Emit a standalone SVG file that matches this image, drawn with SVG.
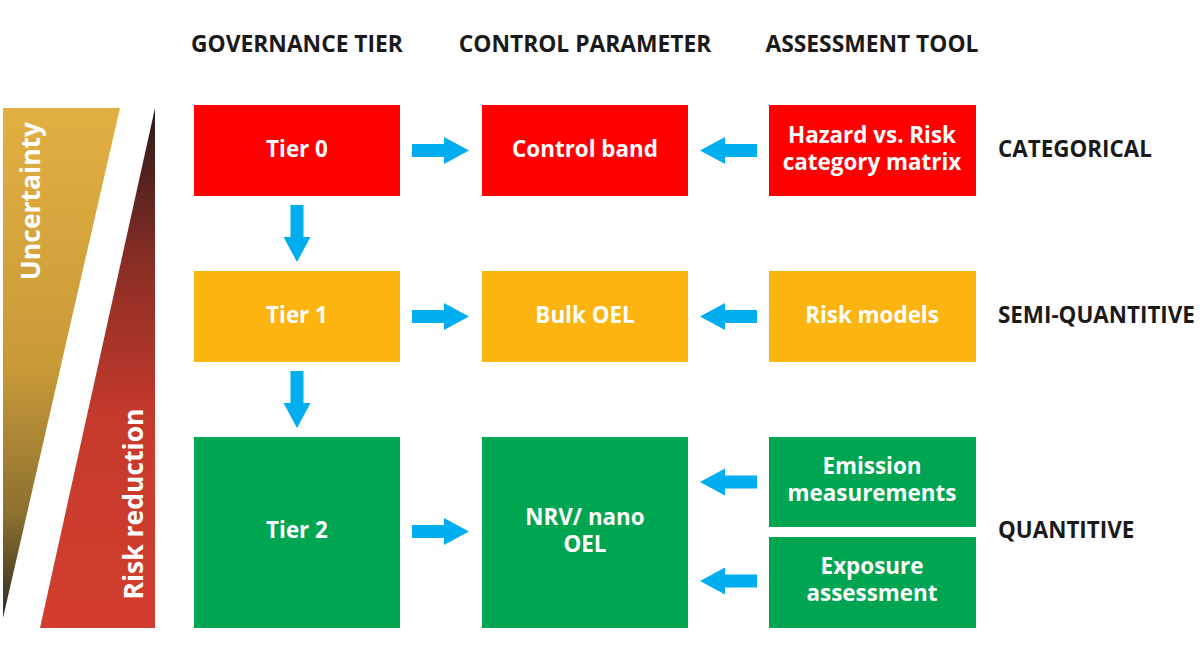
<svg xmlns="http://www.w3.org/2000/svg" width="1200" height="660" viewBox="0 0 1200 660">
<defs>
<linearGradient id="gU" x1="0" y1="0" x2="0" y2="1">
<stop offset="0" stop-color="#E2AF42"/>
<stop offset="0.5" stop-color="#C99A38"/>
<stop offset="0.8" stop-color="#8C7030"/>
<stop offset="1" stop-color="#2E2A22"/>
</linearGradient>
<linearGradient id="gR" x1="0" y1="0" x2="0" y2="1">
<stop offset="0" stop-color="#2B1A1A"/>
<stop offset="0.3" stop-color="#8A2E25"/>
<stop offset="0.6" stop-color="#C63A2C"/>
<stop offset="1" stop-color="#D23E2E"/>
</linearGradient>
<path id="arR" d="M0,-6.5 H32 V-13.5 L57,0 L32,13.5 V6.5 H0 Z"/>
</defs>
<style>
text{font-family:"Open Sans","Liberation Sans",sans-serif;font-weight:bold}
.h{font-size:22.8px;fill:#1a1a1a;text-anchor:middle}
.s{font-size:22.4px;fill:#1a1a1a}
.b{font-size:22.4px;fill:#fff;text-anchor:middle}
.red{fill:#FF0000}.org{fill:#FBB410}.grn{fill:#00A551}
.ar{fill:#00AEEF}
.side{font-size:26.5px;fill:#fff;text-anchor:middle}
</style>
<rect width="1200" height="660" fill="#fff"/>
<g id="uncertainty">
<polygon points="3,108 120,108 3,618" fill="url(#gU)"/>
<text class="side" transform="translate(40,201) rotate(-90)">Uncertainty</text>
</g>
<g id="risk-reduction">
<polygon points="155,108 155,628 40,628" fill="url(#gR)"/>
<text class="side" transform="translate(143,504) rotate(-90)">Risk reduction</text>
</g>
<g id="headers">
<text class="h" x="297" y="52">GOVERNANCE TIER</text>
<text class="h" x="585" y="52">CONTROL PARAMETER</text>
<text class="h" x="872" y="52">ASSESSMENT TOOL</text>
</g>
<g id="labels">
<text class="s" x="998" y="157">CATEGORICAL</text>
<text class="s" x="998" y="323">SEMI-QUANTITIVE</text>
<text class="s" x="998" y="538">QUANTITIVE</text>
</g>
<g id="tier0"><rect class="red" x="194" y="105" width="206" height="91"/><text class="b" x="297" y="157">Tier 0</text></g>
<g id="control-band"><rect class="red" x="482" y="105" width="206" height="91"/><text class="b" x="585" y="157">Control band</text></g>
<g id="hazard-matrix"><rect class="red" x="769" y="105" width="207" height="91"/><text class="b" x="872" y="143">Hazard vs. Risk</text><text class="b" x="872" y="170">category matrix</text></g>
<g id="tier1"><rect class="org" x="194" y="271" width="206" height="91"/><text class="b" x="297" y="323">Tier 1</text></g>
<g id="bulk-oel"><rect class="org" x="482" y="271" width="206" height="91"/><text class="b" x="585" y="323">Bulk OEL</text></g>
<g id="risk-models"><rect class="org" x="769" y="271" width="207" height="91"/><text class="b" x="872" y="323">Risk models</text></g>
<g id="tier2"><rect class="grn" x="194" y="437" width="206" height="191"/><text class="b" x="297" y="538">Tier 2</text></g>
<g id="nrv"><rect class="grn" x="482" y="437" width="206" height="191"/><text class="b" x="585" y="525">NRV/ nano</text><text class="b" x="585" y="552">OEL</text></g>
<g id="emission"><rect class="grn" x="769" y="437" width="207" height="90"/><text class="b" x="872" y="474">Emission</text><text class="b" x="872" y="501">measurements</text></g>
<g id="exposure"><rect class="grn" x="769" y="537" width="207" height="91"/><text class="b" x="872" y="574">Exposure</text><text class="b" x="872" y="601">assessment</text></g>
<g id="connectors" class="ar">
<use href="#arR" transform="translate(412,150.5)"/>
<use href="#arR" transform="translate(412,316.5)"/>
<use href="#arR" transform="translate(412,531.5)"/>
<use href="#arR" transform="translate(757,150.5) rotate(180)"/>
<use href="#arR" transform="translate(757,316.5) rotate(180)"/>
<use href="#arR" transform="translate(757,482) rotate(180)"/>
<use href="#arR" transform="translate(757,581) rotate(180)"/>
<use href="#arR" transform="translate(297,205) rotate(90)"/>
<use href="#arR" transform="translate(297,371) rotate(90)"/>
</g>
</svg>
